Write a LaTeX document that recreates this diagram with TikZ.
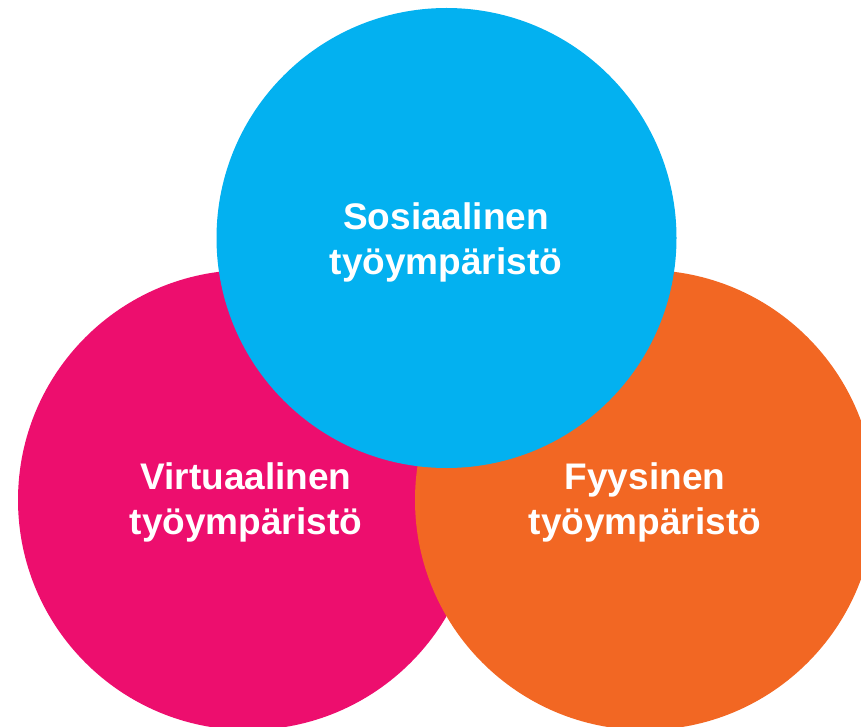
\documentclass[tikz,border=0pt]{standalone}
\usepackage{fontspec}
\setmainfont{Liberation Sans}
\definecolor{cblue}{RGB}{3,177,240}
\definecolor{cpink}{RGB}{237,14,110}
\definecolor{corange}{RGB}{242,103,35}
\begin{document}
\begin{tikzpicture}[x=1pt,y=-1pt,
  lbl/.style={text=white,font=\fontsize{37}{45}\selectfont\bfseries,align=center}]
\useasboundingbox (0,0) rectangle (861,727);
\begin{scope}
\clip (0,0) rectangle (861,727);
\fill[cpink] (248,500) circle[radius=230];
\fill[corange] (645,500) circle[radius=230];
\fill[cblue] (446.5,238) circle[radius=230];
\end{scope}
\node[lbl] (soc) at (446,242) {Sosiaalinen\\työympäristö};
\node[lbl] (vir) at (246,502) {Virtuaalinen\\työympäristö};
\node[lbl] (fyy) at (645,502) {Fyysinen\\työympäristö};
\end{tikzpicture}
\end{document}
